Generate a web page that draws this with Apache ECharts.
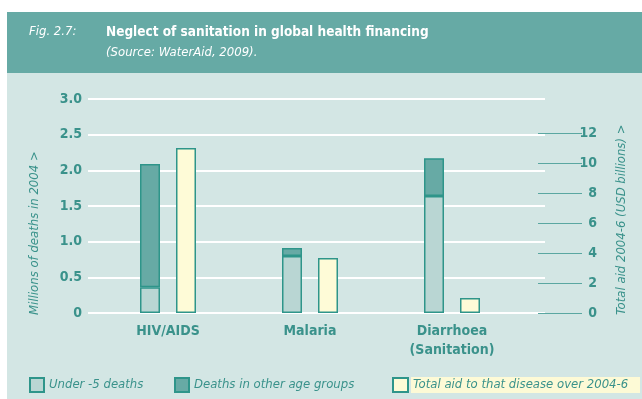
<!DOCTYPE html>
<html>
<head>
<meta charset="utf-8">
<script src="https://cdn.jsdelivr.net/npm/echarts@6/dist/echarts.min.js"></script>
<style>
html,body{margin:0;padding:0;background:#ffffff;}
#c{width:642px;height:399px;}
</style>
</head>
<body>
<div id="c"></div>
<script>
const categories = ['HIV/AIDS', 'Malaria', 'Diarrhoea\n(Sanitation)'];
const under5Deaths = [0.36, 0.80, 1.64];
const otherAgeDeaths = [1.73, 0.11, 0.53];
const totalAid = [11.0, 3.67, 1.0];
const leftTicks = [0, 0.5, 1.0, 1.5, 2.0, 2.5, 3.0];
const rightTicks = [0, 2, 4, 6, 8, 10, 12];

const FONT = '"Liberation Sans Narrow", "DejaVu Sans Condensed", "Liberation Sans", sans-serif';
const TEAL_TEXT = '#3a928b';
const BORDER = '#2e958a';

const chart = echarts.init(document.getElementById('c'), null, {renderer: 'canvas'});

const option = {
  backgroundColor: '#ffffff',
  animation: false,
  graphic: [
    {type: 'rect', z: -10, shape: {x: 7, y: 12, width: 635, height: 387}, style: {fill: '#d3e6e4'}},
    {type: 'rect', z: -9, shape: {x: 7, y: 12, width: 635, height: 61}, style: {fill: '#66aaa5'}},
    {type: 'text', x: 29, y: 32, style: {text: 'Fig. 2.7:', fill: '#ffffff', font: 'italic 13px ' + FONT, textVerticalAlign: 'middle'}},
    {type: 'text', x: 106, y: 32, style: {text: 'Neglect of sanitation in global health financing', fill: '#ffffff', font: 'bold 13.5px ' + FONT, textVerticalAlign: 'middle'}},
    {type: 'text', x: 106, y: 53, style: {text: '(Source: WaterAid, 2009).', fill: '#ffffff', font: 'italic 13px ' + FONT, textVerticalAlign: 'middle'}},
    {type: 'text', x: 35, y: 315, rotation: Math.PI / 2, style: {text: 'Millions of deaths in 2004 >', fill: TEAL_TEXT, font: 'italic 13px ' + FONT, textAlign: 'left', textVerticalAlign: 'middle'}},
    {type: 'text', x: 622, y: 315, rotation: Math.PI / 2, style: {text: 'Total aid 2004-6 (USD billions) >', fill: TEAL_TEXT, font: 'italic 13px ' + FONT, textAlign: 'left', textVerticalAlign: 'middle'}},
    {type: 'rect', z: -1, shape: {x: 411, y: 377, width: 229, height: 16}, style: {fill: '#fdfad6'}}
  ],
  grid: [
    {left: 88, right: 97, top: 99, bottom: 86},
    {left: 97, right: 119, top: 99, bottom: 86}
  ],
  xAxis: [
    {type: 'category', gridIndex: 0, data: ['a'], show: false},
    {type: 'category', gridIndex: 1, data: categories,
      axisLine: {show: false}, axisTick: {show: false},
      axisLabel: {color: TEAL_TEXT, fontFamily: FONT, fontSize: 14, fontWeight: 'bold', margin: 9, lineHeight: 19}}
  ],
  yAxis: [
    {type: 'value', gridIndex: 0, min: 0, max: 3, interval: 0.5,
      axisLine: {show: false}, axisTick: {show: false},
      splitLine: {show: true, lineStyle: {color: '#ffffff', width: 2}},
      axisLabel: {color: TEAL_TEXT, fontFamily: FONT, fontSize: 14, fontWeight: 'bold', margin: 6,
        formatter: v => v === 0 ? '0' : v.toFixed(1)}},
    {type: 'value', gridIndex: 1, min: 0, max: 3, show: false, splitLine: {show: false}},
    {type: 'value', gridIndex: 1, position: 'right', min: 0, max: 14.267, interval: 2, offset: 15,
      axisLine: {show: false},
      splitLine: {show: false},
      axisTick: {show: true, inside: false, length: 44, customValues: rightTicks, lineStyle: {color: '#5aa7a1', width: 1}},
      axisLabel: {show: true, customValues: rightTicks, color: TEAL_TEXT, fontFamily: FONT, fontSize: 14, fontWeight: 'bold', align: 'right', margin: 59,
        formatter: v => (v > 12 ? '' : String(v))}}
  ],
  legend: [
    {left: 29, top: 377, icon: 'rect', itemWidth: 14, itemHeight: 14, data: ['Under -5 deaths'],
      textStyle: {color: TEAL_TEXT, fontFamily: FONT, fontStyle: 'italic', fontSize: 13}, padding: 0},
    {left: 174, top: 377, icon: 'rect', itemWidth: 14, itemHeight: 14, data: ['Deaths in other age groups'],
      textStyle: {color: TEAL_TEXT, fontFamily: FONT, fontStyle: 'italic', fontSize: 13}, padding: 0},
    {left: 392, top: 377, icon: 'rect', itemWidth: 15, itemHeight: 14, data: ['Total aid to that disease over 2004-6'],
      textStyle: {color: TEAL_TEXT, fontFamily: FONT, fontStyle: 'italic', fontSize: 13}, padding: 0}
  ],
  series: [
    {name: 'Under -5 deaths', type: 'bar', xAxisIndex: 1, yAxisIndex: 1, stack: 'deaths', data: under5Deaths,
      barWidth: 20, barGap: '80%',
      itemStyle: {color: '#b9d6d3', borderColor: BORDER, borderWidth: 1.5}},
    {name: 'Deaths in other age groups', type: 'bar', xAxisIndex: 1, yAxisIndex: 1, stack: 'deaths', data: otherAgeDeaths,
      barWidth: 20, barGap: '80%',
      itemStyle: {color: '#67aaa5', borderColor: BORDER, borderWidth: 1.5}},
    {name: 'Total aid to that disease over 2004-6', type: 'bar', xAxisIndex: 1, yAxisIndex: 2, data: totalAid,
      barWidth: 20, barGap: '80%',
      itemStyle: {color: '#fefbd7', borderColor: BORDER, borderWidth: 1.5}}
  ]
};
chart.setOption(option);
</script>
</body>
</html>
